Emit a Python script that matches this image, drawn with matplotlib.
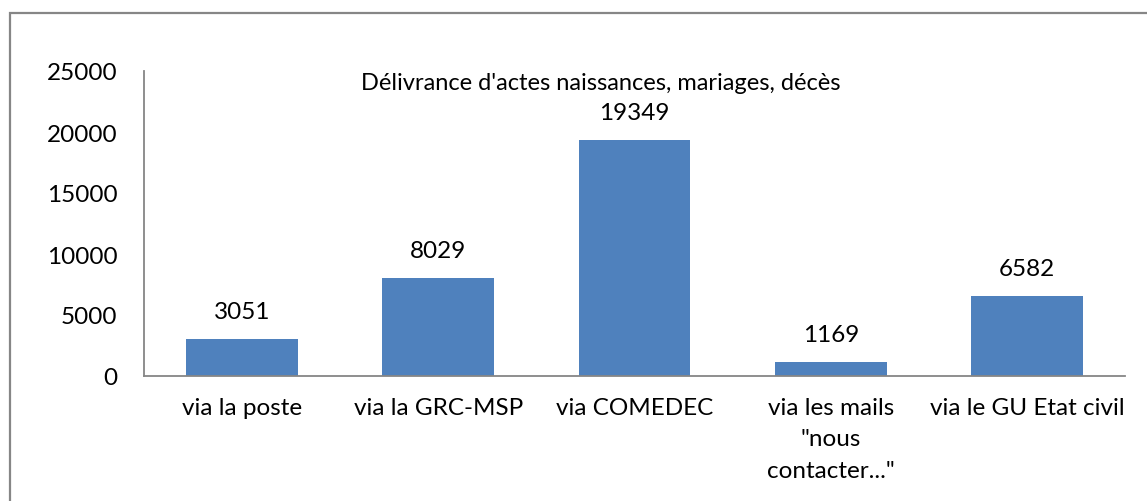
"""Délivrance d'actes -- bar chart of the five request channels (Excel-like look)."""

import matplotlib
matplotlib.use("Agg")
import matplotlib.pyplot as plt
from matplotlib.patches import Rectangle

categories = ["via la poste", "via la GRC-MSP", "via COMEDEC",
              "via les mails\n\"nous\ncontacter...\"", "via le GU Etat civil"]
values = [3051, 8029, 19349, 1169, 6582]
yticks = [0, 5000, 10000, 15000, 20000, 25000]
title = "Délivrance d'actes naissances, mariages, décès"

BAR = "#4F81BD"
AXIS = "#868686"
FS = 17.5

plt.rcParams["font.family"] = ["Lato", "DejaVu Sans"]

fig = plt.figure(figsize=(11.47, 5.02), dpi=100)
W, H = 1147, 502
ax = fig.add_axes([144 / W, 1 - 377 / H, (1125 - 144) / W, (377 - 72) / H])

x = range(len(categories))
ax.bar(x, values, width=0.57, color=BAR)
for xi, v in zip(x, values):
    ax.annotate(str(v), xy=(xi, v), xytext=(0, 19.5), textcoords="offset points",
                ha="center", va="center", fontsize=FS, color="black")

ax.set_xlim(-0.5, len(categories) - 0.5)
ax.set_ylim(0, 25000)
ax.set_yticks(yticks)
ax.set_yticklabels([str(t) for t in yticks])
ax.set_xticks(list(x))
ax.set_xticklabels(categories, linespacing=1.62, va="top")
ax.tick_params(axis="y", length=0, pad=19, labelsize=FS)
ax.tick_params(axis="x", length=0, pad=15, labelsize=FS)
for s in ("top", "right"):
    ax.spines[s].set_visible(False)
for s in ("left", "bottom"):
    ax.spines[s].set_color(AXIS)
    ax.spines[s].set_linewidth(1.3)

ax.text((601 - 144) / 981, (377 - 83) / 305, title, transform=ax.transAxes,
        ha="center", va="center", fontsize=17)

# chart frame (cropped on the right and bottom in the source)
fig.patches.append(Rectangle((9.5 / W, -0.1), 1.2, 1.1 - 13.5 / H, transform=fig.transFigure,
                             fill=False, edgecolor=AXIS, linewidth=1.6))

fig.savefig("out.png", dpi=100)
